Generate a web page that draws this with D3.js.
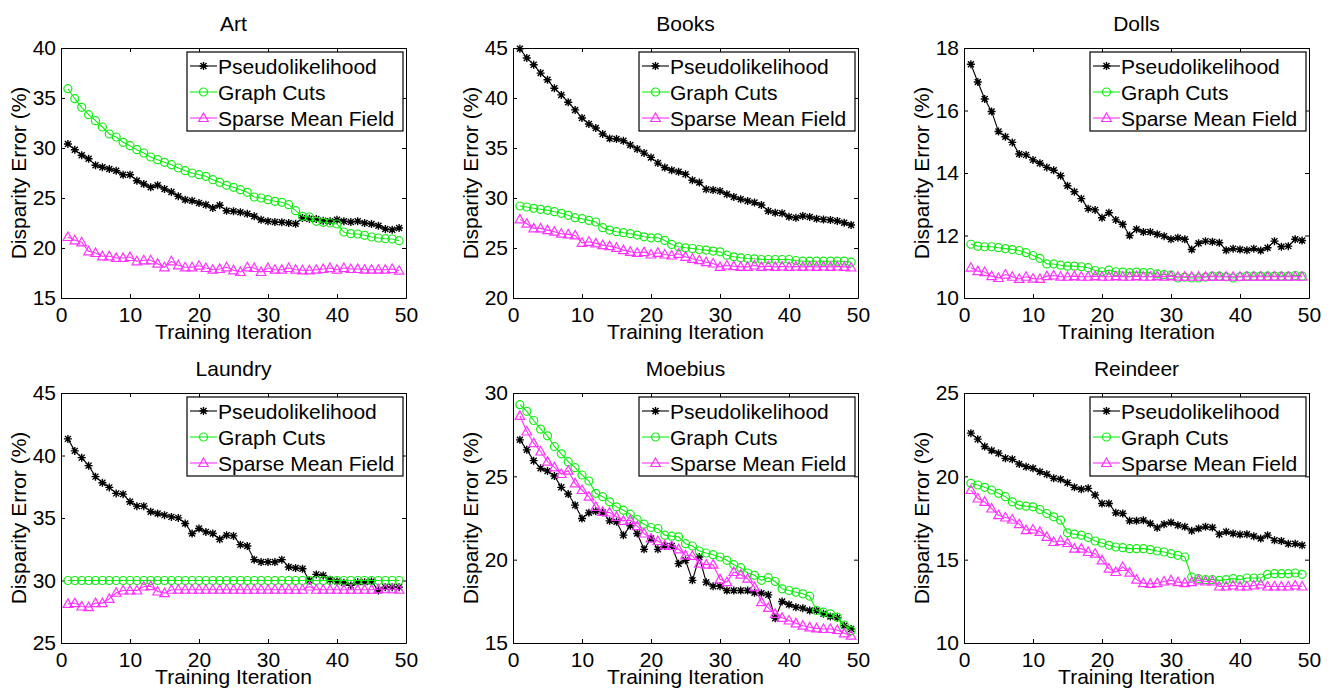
<!DOCTYPE html>
<html>
<head>
<meta charset="utf-8">
<script src="https://cdnjs.cloudflare.com/ajax/libs/d3/7.8.5/d3.min.js"></script>
<style>
  body { margin: 0; background: #fff; }
  text { font-family: "Liberation Sans", Arial, Helvetica, sans-serif; fill: #000; }
</style>
</head>
<body>
<svg id="chart" width="1336" height="689"></svg>
<script>
// training iterations on the x axis
var iterations = d3.range(1, 50);
var seriesNames = ["Pseudolikelihood", "Graph Cuts", "Sparse Mean Field"];
var panelTitles = ["Art", "Books", "Dolls", "Laundry", "Moebius", "Reindeer"];
var xTicks = [0, 10, 20, 30, 40, 50];

var artPseudo = [30.4,29.83,29.27,28.93,28.27,28.07,27.9,27.73,27.33,27.33,
  26.73,26.4,26.07,26.27,25.9,25.6,25.17,24.83,24.73,24.5,
  24.33,24.0,24.27,23.73,23.67,23.57,23.43,23.17,22.83,22.67,
  22.6,22.57,22.5,22.43,23.0,22.93,22.9,22.73,22.67,22.83,
  22.67,22.6,22.67,22.5,22.4,22.23,21.9,21.83,22.0];
var artGraphCuts = [35.93,34.93,34.07,33.33,32.73,32.1,31.4,31.1,30.57,30.23,
  29.83,29.5,29.1,28.83,28.57,28.33,28.0,27.73,27.5,27.33,
  27.17,26.83,26.57,26.27,26.07,25.83,25.57,25.1,25.0,24.83,
  24.67,24.57,24.33,23.73,23.17,23.1,22.67,22.57,22.5,22.4,
  21.6,21.43,21.4,21.27,21.1,21.0,20.93,20.9,20.73];
var artSparseMF = [21.1,20.77,20.57,19.67,19.5,19.17,19.17,19.0,19.0,19.1,
  18.67,18.77,18.77,18.43,18.07,18.67,18.27,18.07,18.07,18.23,
  18.0,17.83,17.9,18.07,17.77,17.6,18.07,18.0,17.6,18.0,
  17.83,17.83,18.0,17.83,17.77,17.77,17.83,17.9,18.0,17.83,
  18.0,17.9,17.9,17.83,17.83,17.83,17.83,17.9,17.73];

var booksPseudo = [44.93,44.0,43.33,42.49,41.82,40.98,40.31,39.58,38.81,38.0,
  37.4,37.0,36.4,35.96,35.9,35.73,35.29,34.89,34.49,34.06,
  33.49,33.05,32.78,32.62,32.38,31.78,31.55,30.88,30.81,30.71,
  30.37,30.11,29.87,29.71,29.54,29.3,28.7,28.53,28.47,28.13,
  28.03,28.2,28.1,27.93,27.86,27.8,27.7,27.53,27.3];
var booksGraphCuts = [29.2,29.1,28.97,28.87,28.77,28.63,28.47,28.27,28.03,27.93,
  27.76,27.6,27.03,26.79,26.63,26.53,26.43,26.29,26.12,26.02,
  26.02,25.76,25.36,25.12,25.02,24.95,24.85,24.79,24.69,24.62,
  24.28,24.12,24.02,23.95,23.92,23.85,23.85,23.85,23.85,23.85,
  23.75,23.68,23.68,23.68,23.68,23.68,23.68,23.68,23.58];
var booksSparseMF = [27.86,27.43,26.96,26.96,26.79,26.63,26.43,26.36,26.26,25.52,
  25.62,25.46,25.29,25.19,25.02,24.79,24.62,24.52,24.59,24.35,
  24.52,24.35,24.25,24.42,24.12,23.92,23.78,23.58,23.45,23.11,
  23.25,23.18,23.11,23.11,23.25,23.11,23.18,23.11,23.15,23.11,
  23.15,23.11,23.15,23.11,23.15,23.11,23.15,23.11,23.05];

var dollsPseudo = [17.48,16.91,16.37,15.97,15.33,15.16,14.98,14.61,14.58,14.42,
  14.31,14.18,14.09,13.91,13.59,13.4,13.18,12.86,12.82,12.57,
  12.73,12.5,12.36,12.0,12.2,12.11,12.11,12.04,11.98,11.88,
  11.93,11.88,11.55,11.75,11.82,11.8,11.77,11.53,11.58,11.55,
  11.53,11.58,11.52,11.61,11.82,11.64,11.66,11.88,11.84];
var dollsGraphCuts = [11.72,11.66,11.64,11.64,11.61,11.58,11.55,11.52,11.45,11.36,
  11.27,11.09,11.09,11.05,11.02,11.02,11.0,10.97,10.88,10.84,
  10.89,10.84,10.83,10.81,10.83,10.81,10.81,10.77,10.75,10.73,
  10.64,10.67,10.64,10.64,10.67,10.7,10.7,10.68,10.64,10.68,
  10.7,10.7,10.7,10.7,10.7,10.7,10.7,10.72,10.7];
var dollsSparseMF = [10.97,10.86,10.83,10.7,10.64,10.75,10.68,10.61,10.68,10.62,
  10.61,10.7,10.72,10.68,10.68,10.7,10.68,10.68,10.7,10.68,
  10.68,10.7,10.68,10.68,10.7,10.68,10.68,10.7,10.68,10.7,
  10.68,10.68,10.68,10.68,10.68,10.68,10.68,10.68,10.68,10.68,
  10.68,10.68,10.68,10.68,10.68,10.68,10.68,10.68,10.68];

var laundryPseudo = [41.33,40.37,39.83,39.19,38.31,37.82,37.45,36.97,36.91,36.3,
  35.95,35.95,35.5,35.36,35.23,35.09,35.01,34.56,33.76,34.16,
  33.89,33.76,33.3,33.62,33.57,32.87,32.76,31.67,31.48,31.48,
  31.48,31.67,31.08,31.0,30.94,30.01,30.49,30.41,30.06,29.93,
  29.82,29.61,29.87,29.87,29.93,29.2,29.47,29.47,29.47];
var laundryGraphCuts = [30.0,30.0,30.0,30.0,30.0,30.0,30.0,30.0,30.0,30.0,
  30.0,30.0,30.0,30.0,30.0,30.0,30.0,30.0,30.0,30.0,
  30.0,30.0,30.0,30.0,30.0,30.0,30.0,30.0,30.0,30.0,
  30.0,30.0,30.0,30.0,30.0,30.0,30.0,30.0,30.0,30.0,
  30.0,30.0,30.0,30.0,30.0,30.0,30.0,30.0,30.0];
var laundrySparseMF = [28.13,28.19,27.92,27.87,28.19,28.19,28.53,29.02,29.2,29.2,
  29.2,29.52,29.55,29.12,28.99,29.26,29.26,29.26,29.26,29.26,
  29.26,29.26,29.26,29.26,29.26,29.26,29.26,29.26,29.26,29.26,
  29.26,29.26,29.26,29.26,29.26,29.52,29.26,29.26,29.26,29.26,
  29.26,29.26,29.26,29.26,29.26,29.3,29.3,29.3,29.26];

var moebiusPseudo = [27.19,26.59,25.94,25.48,25.32,25.02,24.34,23.94,23.27,22.47,
  22.81,22.91,22.83,22.33,22.27,21.47,22.03,21.57,20.62,21.27,
  20.62,20.82,20.82,19.76,19.96,18.76,20.16,18.65,18.41,18.41,
  18.15,18.15,18.15,18.15,18.01,17.99,17.89,16.49,17.49,17.31,
  17.15,17.09,16.95,16.95,16.75,16.59,16.51,16.04,15.84];
var moebiusGraphCuts = [29.3,28.9,28.35,27.83,27.43,26.79,26.35,25.88,25.52,25.08,
  24.72,23.98,23.78,23.47,23.17,22.97,22.73,22.41,22.13,21.93,
  21.87,21.47,21.41,21.37,20.96,20.82,20.52,20.4,20.3,20.16,
  19.96,19.7,19.52,19.2,19.06,18.76,18.92,18.69,18.25,18.15,
  18.05,17.95,17.81,16.95,16.85,16.75,16.55,16.08,15.74];
var moebiusSparseMF = [28.63,27.69,26.99,26.49,25.88,25.54,25.14,25.34,24.58,24.18,
  23.78,23.17,22.87,22.83,22.57,22.33,22.37,22.01,21.57,21.27,
  21.12,20.86,20.82,20.62,20.26,20.22,19.76,19.7,19.7,18.82,
  18.65,19.26,19.1,18.86,18.35,17.45,17.11,16.75,16.51,16.35,
  16.18,16.04,15.94,15.88,15.84,15.84,15.78,15.58,15.44];

var reindeerPseudo = [22.59,22.23,21.79,21.55,21.39,21.08,21.02,20.74,20.58,20.48,
  20.28,20.12,19.88,19.82,19.62,19.34,19.22,19.28,18.88,18.37,
  18.37,17.81,17.77,17.33,17.33,17.37,17.17,16.91,17.13,17.23,
  17.07,16.97,16.73,16.87,16.97,16.93,16.53,16.67,16.57,16.51,
  16.53,16.41,16.27,16.47,16.16,16.12,15.96,15.96,15.86];
var reindeerGraphCuts = [19.58,19.48,19.34,19.18,18.98,18.78,18.47,18.27,18.21,18.17,
  18.01,17.77,17.57,17.37,16.61,16.53,16.47,16.33,16.12,16.0,
  15.86,15.76,15.72,15.66,15.66,15.66,15.6,15.52,15.46,15.36,
  15.26,15.16,13.96,13.86,13.8,13.8,13.76,13.8,13.86,13.8,
  13.9,13.9,13.9,14.12,14.16,14.16,14.16,14.2,14.12];
var reindeerSparseMF = [19.18,18.67,18.47,18.07,17.67,17.53,17.41,17.13,16.77,16.81,
  16.67,16.37,16.06,16.12,16.0,15.66,15.66,15.46,15.36,14.96,
  14.46,14.26,14.56,14.22,13.8,13.59,13.55,13.59,13.69,13.76,
  13.65,13.59,13.65,13.76,13.69,13.69,13.39,13.39,13.45,13.39,
  13.39,13.45,13.51,13.39,13.39,13.39,13.39,13.45,13.39];

var yDomains = [[15, 40], [20, 45], [10, 18], [25, 45], [15, 30], [10, 25]];
var yTicks = [
  [15, 20, 25, 30, 35, 40],
  [20, 25, 30, 35, 40, 45],
  [10, 12, 14, 16, 18],
  [25, 30, 35, 40, 45],
  [15, 20, 25, 30],
  [10, 15, 20, 25]
];

var panelSeries = [
  [artPseudo, artGraphCuts, artSparseMF],
  [booksPseudo, booksGraphCuts, booksSparseMF],
  [dollsPseudo, dollsGraphCuts, dollsSparseMF],
  [laundryPseudo, laundryGraphCuts, laundrySparseMF],
  [moebiusPseudo, moebiusGraphCuts, moebiusSparseMF],
  [reindeerPseudo, reindeerGraphCuts, reindeerSparseMF]
];

var colors = ["#000000", "#11ee11", "#ff33ff"];
var markerTypes = ["star", "circle", "triangle"];

var colLeft = [61, 513, 964];
var rowTop = [48, 393];
var plotW = 345, plotH = 250;

var svg = d3.select("#chart");

function drawMarker(g, type, color, x, y) {
  if (type == "star") {
    var s = 4, d = 3;
    var p = "M" + (x - s) + "," + y + "L" + (x + s) + "," + y +
      "M" + x + "," + (y - s) + "L" + x + "," + (y + s) +
      "M" + (x - d) + "," + (y - d) + "L" + (x + d) + "," + (y + d) +
      "M" + (x - d) + "," + (y + d) + "L" + (x + d) + "," + (y - d);
    g.append("path").attr("d", p).attr("stroke", color).attr("stroke-width", 1.4).attr("fill", "none");
  } else if (type == "circle") {
    g.append("circle").attr("cx", x).attr("cy", y).attr("r", 4)
      .attr("stroke", color).attr("stroke-width", 1.2).attr("fill", "none");
  } else {
    var t = "M" + x + "," + (y - 5) + "L" + (x + 4.8) + "," + (y + 3.5) + "L" + (x - 4.8) + "," + (y + 3.5) + "Z";
    g.append("path").attr("d", t).attr("stroke", color).attr("stroke-width", 1.2).attr("fill", "none");
  }
}

panelTitles.forEach(function(title, i) {
  var left = colLeft[i % 3];
  var top = rowTop[Math.floor(i / 3)];
  var g = svg.append("g").attr("transform", "translate(" + left + "," + top + ")");

  var x = d3.scaleLinear().domain([0, 50]).range([0, plotW]);
  var y = d3.scaleLinear().domain(yDomains[i]).range([plotH, 0]);

  // box and inward ticks on all sides
  g.append("g").attr("transform", "translate(0," + plotH + ")")
    .call(d3.axisBottom(x).tickValues(xTicks).tickSizeInner(-4).tickSizeOuter(0).tickPadding(9));
  g.append("g")
    .call(d3.axisLeft(y).tickValues(yTicks[i]).tickSizeInner(-4).tickSizeOuter(0).tickPadding(5));
  g.append("g")
    .call(d3.axisTop(x).tickValues(xTicks).tickSizeInner(-4).tickSizeOuter(0).tickFormat(""));
  g.append("g").attr("transform", "translate(" + plotW + ",0)")
    .call(d3.axisRight(y).tickValues(yTicks[i]).tickSizeInner(-4).tickSizeOuter(0).tickFormat(""));
  g.selectAll(".domain").attr("stroke", "#000");
  g.selectAll(".tick line").attr("stroke", "#000");
  g.selectAll(".tick text").attr("font-size", 21).attr("fill", "#000")
    .style("font-family", "'Liberation Sans', Arial, sans-serif");

  g.append("text").attr("x", plotW / 2).attr("y", -17)
    .attr("text-anchor", "middle").attr("font-size", 21).text(title);
  g.append("text").attr("x", plotW / 2).attr("y", plotH + 41)
    .attr("text-anchor", "middle").attr("font-size", 21).text("Training Iteration");
  g.append("text").attr("transform", "translate(-35," + (plotH / 2) + ") rotate(-90)")
    .attr("text-anchor", "middle").attr("font-size", 21).text("Disparity Error (%)");

  var line = d3.line()
    .x(function(d, k) { return x(iterations[k]); })
    .y(function(d) { return y(d); });

  panelSeries[i].forEach(function(values, s) {
    g.append("path").datum(values).attr("d", line)
      .attr("fill", "none").attr("stroke", colors[s]).attr("stroke-width", 1.1);
    var mg = g.append("g");
    values.forEach(function(v, k) {
      drawMarker(mg, markerTypes[s], colors[s], x(iterations[k]), y(v));
    });
  });

  // legend
  var lg = g.append("g").attr("transform", "translate(126,4)");
  lg.append("rect").attr("width", 216).attr("height", 79)
    .attr("fill", "#fff").attr("stroke", "#000").attr("stroke-width", 1.2);
  seriesNames.forEach(function(name, s) {
    var ly = 14 + s * 26;
    lg.append("line").attr("x1", 3).attr("x2", 30).attr("y1", ly).attr("y2", ly)
      .attr("stroke", colors[s]).attr("stroke-width", 1.1);
    drawMarker(lg, markerTypes[s], colors[s], 16.5, ly);
    lg.append("text").attr("x", 31).attr("y", ly).attr("dy", "0.36em")
      .attr("font-size", 21).text(name);
  });
});
</script>
</body>
</html>
